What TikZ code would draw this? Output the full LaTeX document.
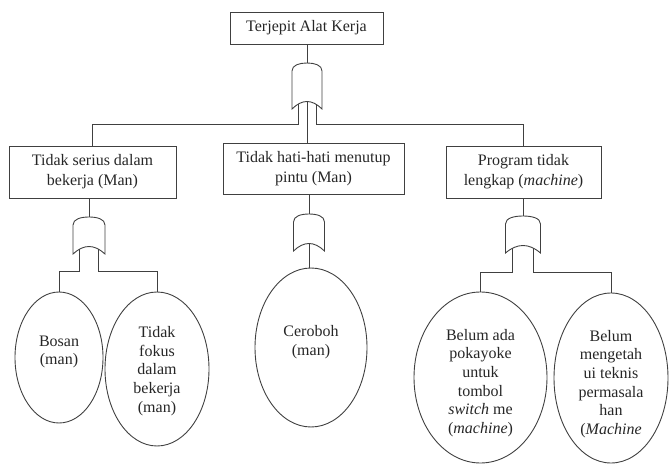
\documentclass[tikz,border=0pt]{standalone}
\usepackage{fontspec}
\setmainfont{Liberation Serif}
\usetikzlibrary{shapes.geometric,calc}
\tikzset{
  ln/.style={draw=black!75, line width=0.9pt},
  box/.style={draw=black!75, line width=0.9pt, rectangle, align=center, inner sep=0pt,
    font=\fontsize{16}{20}\selectfont, text=black!85},
  oval/.style={draw=black!75, line width=0.9pt, ellipse, inner sep=0pt},
  otext/.style={align=center, inner sep=0pt, font=\fontsize{16}{18.7}\selectfont, text=black!85},
  pics/orgate/.style 2 args={code={
    \draw[ln] (-#1,#2) -- (-#1,8) .. controls (-#1,2) and ({-0.5*#1},0) .. (0,0)
      .. controls ({0.5*#1},0) and (#1,2) .. (#1,8) -- (#1,#2)
      .. controls ({#1/3},{#2-10}) and ({-#1/3},{#2-10}) .. (-#1,#2) -- cycle;
    \coordinate (-top) at (0,0);
    \coordinate (-l) at ({-0.6*#1},{#2-4.8});
    \coordinate (-c) at (0,{#2-7.5});
    \coordinate (-r) at ({0.6*#1},{#2-4.8});
  }}
}
\begin{document}
\begin{tikzpicture}[x=1pt,y=-1pt]
\useasboundingbox (0,0) rectangle (672,465);

% boxes
\node[box, minimum width=153pt, minimum height=32pt] (b1) at (306.5,28) {Terjepit Alat Kerja};
\node[box, minimum width=167pt, minimum height=52pt] (b2) at (92.5,172) {Tidak serius dalam\\bekerja (Man)};
\node[box, minimum width=181pt, minimum height=51pt] (b3) at (313.5,168.5) {Tidak hati-hati menutup\\pintu (Man)};
\node[box, minimum width=155pt, minimum height=52pt] (b4) at (523.5,172) {Program tidak\\lengkap (\textit{machine})};

% gates
\pic (g1) at (307,63) {orgate={15}{46}};
\pic (g2) at (89,217) {orgate={16}{37}};
\pic (g3) at (309,214) {orgate={15.5}{37}};
\pic (g4) at (523,216) {orgate={17.5}{37}};

% ellipses
\node[oval, minimum width=88pt, minimum height=131pt] (e1) at (59,357.5) {};
\node[oval, minimum width=104pt, minimum height=154pt] (e2) at (157,369) {};
\node[oval, minimum width=112pt, minimum height=159pt] (e3) at (311,347.5) {};
\node[oval, minimum width=133pt, minimum height=171pt] (e4) at (480.5,377.5) {};
\node[oval, minimum width=114pt, minimum height=170pt] (e5) at (611,378) {};

\node[otext] (t1) at (59,352) {Bosan\\(man)};
\node[otext] (t2) at (157,371) {Tidak\\fokus\\dalam\\bekerja\\(man)};
\node[otext] (t3) at (311,342) {Ceroboh\\(man)};
\node[otext] (t4) at (480.5,383) {Belum ada\\pokayoke\\untuk\\tombol\\\textit{switch} me\\(\textit{machine})};
\node[otext] (t5) at (611,384) {Belum\\mengetah\\ui teknis\\permasala\\han\\(\textit{Machine}};

% connectors
\draw[ln] (g1-top |- b1.south) -- (g1-top);
\draw[ln] (g1-l) -- (g1-l |- 0,124) -| (b2.north);
\draw[ln] (g1-c) -- (g1-c |- b3.north);
\draw[ln] (g1-r) -- (g1-r |- 0,124) -| (b4.north);

\draw[ln] (g2-top |- b2.south) -- (g2-top);
\draw[ln] (g3-top |- b3.south) -- (g3-top);
\draw[ln] (g4-top |- b4.south) -- (g4-top);

\draw[ln] (g2-l) -- (g2-l |- 0,271) -| (e1.north);
\draw[ln] (g2-r) -- (g2-r |- 0,271) -| (e2.north);
\draw[ln] (g3-c) -- (g3-c |- e3.north);
\draw[ln] (g4-l) -- (g4-l |- 0,272) -| (e4.north);
\draw[ln] (g4-r) -- (g4-r |- 0,272) -| (e5.north);
\end{tikzpicture}
\end{document}
